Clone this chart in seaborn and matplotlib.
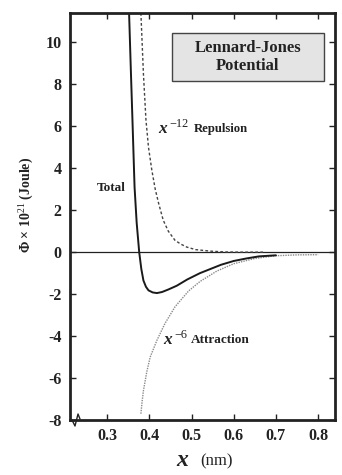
import pandas as pd
import matplotlib
matplotlib.use('Agg')
import matplotlib.pyplot as plt
import seaborn as sns
from matplotlib.patches import Rectangle
from matplotlib.lines import Line2D

# values (x in nm, potential in 1e-21 J)
total_x = [0.352, 0.356, 0.360, 0.365, 0.370, 0.376, 0.381, 0.386, 0.392, 0.398, 0.408,
           0.418, 0.430, 0.445, 0.465, 0.490, 0.520, 0.545, 0.570, 0.600, 0.630, 0.660, 0.700]
total_y = [11.4, 8.8, 6.3, 3.1, 1.4, 0.0, -0.8, -1.35, -1.65, -1.82, -1.92,
           -1.95, -1.9, -1.78, -1.6, -1.3, -1.0, -0.8, -0.6, -0.42, -0.3, -0.2, -0.15]

rep_x = [0.380, 0.386, 0.392, 0.398, 0.406, 0.414, 0.422, 0.433, 0.445, 0.461, 0.475,
         0.489, 0.510, 0.544, 0.580, 0.620, 0.670]
rep_y = [11.4, 8.5, 6.3, 5.0, 3.9, 3.0, 2.33, 1.52, 1.0, 0.56, 0.38,
         0.24, 0.12, 0.05, 0.01, 0.0, 0.0]

att_x = [0.380, 0.383, 0.386, 0.394, 0.402, 0.418, 0.437, 0.461, 0.493, 0.520, 0.560,
         0.600, 0.650, 0.700, 0.750, 0.800]
att_y = [-7.7, -7.1, -6.6, -5.7, -5.0, -4.2, -3.4, -2.6, -1.85, -1.4, -0.9,
         -0.55, -0.3, -0.17, -0.13, -0.12]

x_ticks = [0.3, 0.4, 0.5, 0.6, 0.7, 0.8]
y_ticks = [-8, -6, -4, -2, 0, 2, 4, 6, 8, 10]

sns.set_style('ticks')
plt.rcParams['font.family'] = ['Liberation Serif', 'DejaVu Serif']
plt.rcParams['axes.unicode_minus'] = False
plt.rcParams['mathtext.fontset'] = 'custom'
plt.rcParams['mathtext.rm'] = 'Liberation Serif'
plt.rcParams['mathtext.it'] = 'Liberation Serif:italic:bold'

df_total = pd.DataFrame({'x': total_x, 'phi': total_y})
df_rep = pd.DataFrame({'x': rep_x, 'phi': rep_y})
df_att = pd.DataFrame({'x': att_x, 'phi': att_y})

fig = plt.figure(figsize=(3.42, 4.75), dpi=100)
ax = fig.add_axes([70 / 342, 1 - 420 / 475, 265 / 342, 407 / 475])

ax.axhline(0, color='#222222', lw=0.9, zorder=1)
sns.lineplot(data=df_att, x='x', y='phi', ax=ax, sort=False, estimator=None,
             color='#8a8a8a', lw=1.0, linestyle=(0, (1, 0.8)))
sns.lineplot(data=df_rep, x='x', y='phi', ax=ax, sort=False, estimator=None,
             color='#444444', lw=1.0, linestyle=(0, (2, 1.6)))
sns.lineplot(data=df_total, x='x', y='phi', ax=ax, sort=False, estimator=None,
             color='#1a1a1a', lw=1.4)

ax.set_xlim(0.212, 0.84)
ax.set_ylim(-8, 11.4)
ax.set_xticks(x_ticks)
ax.set_xticklabels([f'{v:.1f}' for v in x_ticks])
ax.set_yticks(y_ticks)
ax.set_yticklabels([str(v) for v in y_ticks])
ax.set_xlabel('')
ax.set_ylabel('')
ax.tick_params(direction='in', length=4, width=1, top=True, right=True,
               labelsize=11.5, colors='#222222', pad=6)
for lab in ax.get_xticklabels() + ax.get_yticklabels():
    lab.set_fontweight('bold')
for s in ax.spines.values():
    s.set_linewidth(2.0)
    s.set_color('#222222')

# axis break mark at the lower left
fig.add_artist(Line2D([72 / 342, 75 / 342, 78 / 342, 80 / 342],
                      [1 - 420 / 475, 1 - 426 / 475, 1 - 414 / 475, 1 - 419 / 475],
                      color='#222222', lw=1.0))

# title box
fig.add_artist(Rectangle((172 / 342, 1 - 81 / 475), 152 / 342, 48 / 475,
                         transform=fig.transFigure, facecolor='#e4e4e4',
                         edgecolor='#444444', lw=1.0))
fig.text(248 / 342, 1 - 57 / 475, 'Lennard-Jones\nPotential', ha='center', va='center',
         fontsize=12, fontweight='bold', color='#222222', linespacing=1.15)

# curve labels
fig.text(158 / 342, 1 - 129 / 475, 'x', fontsize=12.5, fontweight='bold',
         fontstyle='italic', ha='left', va='center', color='#222222')
fig.text(169 / 342, 1 - 124 / 475, '\u221212', fontsize=8.8, ha='left', va='center',
         color='#222222')
fig.text(194 / 342, 1 - 129 / 475, 'Repulsion', fontsize=9.2, fontweight='bold',
         ha='left', va='center', color='#222222')

fig.text(97 / 342, 1 - 188 / 475, 'Total', fontsize=9.5, fontweight='bold',
         ha='left', va='center', color='#222222')

fig.text(163 / 342, 1 - 340 / 475, 'x', fontsize=12.5, fontweight='bold',
         fontstyle='italic', ha='left', va='center', color='#222222')
fig.text(174 / 342, 1 - 335 / 475, '\u22126', fontsize=8.8, ha='left', va='center',
         color='#222222')
fig.text(191 / 342, 1 - 340 / 475, 'Attraction', fontsize=9.5, fontweight='bold',
         ha='left', va='center', color='#222222')

# axis labels
fig.text(27 / 342, 1 - 205 / 475, '\u03a6 \u00d7 10$^{21}$ (Joule)', rotation=90,
         ha='center', va='center', fontsize=10, fontweight='bold', color='#222222')
fig.text(176 / 342, 1 - 461 / 475, 'x', fontsize=17, fontweight='bold',
         fontstyle='italic', ha='left', va='center', color='#222222')
fig.text(200 / 342, 1 - 461 / 475, '(nm)', fontsize=12, ha='left', va='center',
         color='#222222')

fig.savefig('out.png', dpi=100)
